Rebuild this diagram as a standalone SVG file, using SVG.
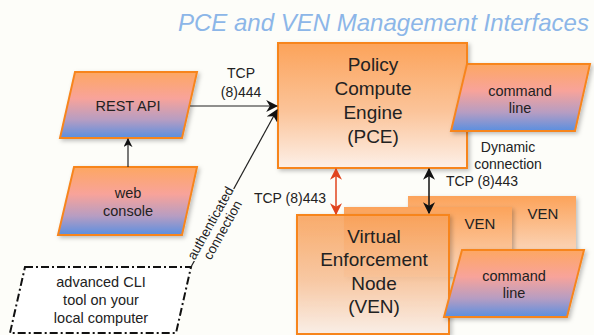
<svg xmlns="http://www.w3.org/2000/svg" width="594" height="335" viewBox="0 0 594 335">
<defs>
<style>
.t{font-family:"Liberation Sans",Arial,sans-serif;fill:#222;text-anchor:middle}
.box{stroke:#f7851f;stroke-width:2}
.ln{stroke:#222;stroke-width:1.2;fill:none}
</style>
<linearGradient id="gPce" x1="0" y1="0" x2="0" y2="1">
<stop offset="0" stop-color="#fca35a"/>
<stop offset="0.55" stop-color="#fbc49a"/>
<stop offset="1" stop-color="#fdf0e8"/>
</linearGradient>
<linearGradient id="gVen" x1="0" y1="0" x2="0" y2="1">
<stop offset="0" stop-color="#fca35a"/>
<stop offset="1" stop-color="#fbd9c0"/>
</linearGradient>
<linearGradient id="gPar" x1="0" y1="0" x2="0" y2="1">
<stop offset="0" stop-color="#fda762"/>
<stop offset="0.4" stop-color="#f8a39a"/>
<stop offset="0.72" stop-color="#b79dc2"/>
<stop offset="1" stop-color="#5a8fe0"/>
</linearGradient>
<filter id="sh" x="-10%" y="-10%" width="130%" height="130%">
<feDropShadow dx="2" dy="2" stdDeviation="2" flood-color="#000" flood-opacity="0.25"/>
</filter>
<marker id="ah" viewBox="0 0 10 10" refX="9" refY="5" markerWidth="9" markerHeight="9" markerUnits="userSpaceOnUse" orient="auto-start-reverse">
<path d="M0,0 L10,5 L0,10 L3,5 z" fill="#111"/>
</marker>
<marker id="ahb" viewBox="0 0 10 10" refX="9" refY="5" markerWidth="12" markerHeight="12" markerUnits="userSpaceOnUse" orient="auto-start-reverse">
<path d="M0,0 L10,5 L0,10 L3,5 z" fill="#111"/>
</marker>
<marker id="ahr" viewBox="0 0 10 10" refX="9" refY="5" markerWidth="12" markerHeight="12" markerUnits="userSpaceOnUse" orient="auto-start-reverse">
<path d="M0,0 L10,5 L0,10 L3,5 z" fill="#e0441e"/>
</marker>
</defs>
<rect width="594" height="335" fill="#fdfdf9"/>
<text x="178" y="31" style="font-family:'Liberation Sans',Arial,sans-serif;font-style:italic;font-size:24px;fill:#8cb6e8">PCE and VEN Management Interfaces</text>

<g id="pce">
<rect class="box" x="278" y="43" width="189" height="125" fill="url(#gPce)" filter="url(#sh)"/>
<text class="t" x="373" y="71" font-size="19">Policy</text>
<text class="t" x="373" y="95" font-size="19">Compute</text>
<text class="t" x="373" y="119" font-size="19">Engine</text>
<text class="t" x="373" y="143" font-size="19">(PCE)</text>
</g>

<g id="pce-cli">
<polygon class="box" points="467,64 590,64 575,131 451,131" fill="url(#gPar)" filter="url(#sh)"/>
<text class="t" x="520" y="96" font-size="14.5">command</text>
<text class="t" x="520" y="113" font-size="14.5">line</text>
</g>

<g id="rest-api">
<polygon class="box" points="75,72 197,72 182,138 60,138" fill="url(#gPar)" filter="url(#sh)"/>
<text class="t" x="128" y="111" font-size="14.5">REST API</text>
</g>

<g id="web-console">
<polygon class="box" points="74,167 197,167 182,235 58,235" fill="url(#gPar)" filter="url(#sh)"/>
<text class="t" x="128" y="198" font-size="14.5">web</text>
<text class="t" x="128" y="216" font-size="14.5">console</text>
</g>

<g id="cli-tool">
<polygon points="25,267 191,267 176,333 10,333" fill="#fff" stroke="#111" stroke-width="2" stroke-dasharray="8,3,2,3"/>
<text class="t" x="101" y="287" font-size="14.5">advanced CLI</text>
<text class="t" x="101" y="305" font-size="14.5">tool on your</text>
<text class="t" x="101" y="323" font-size="14.5">local computer</text>
</g>

<g id="ven3">
<rect x="408" y="196" width="168" height="60" fill="url(#gVen)" filter="url(#sh)"/>
<text class="t" x="543" y="219" font-size="15">VEN</text>
</g>
<g id="ven2">
<rect x="344" y="207" width="168" height="70" fill="url(#gVen)" filter="url(#sh)"/>
<text class="t" x="480" y="229" font-size="15">VEN</text>
</g>

<g id="ven">
<rect class="box" x="297" y="215" width="152" height="119" fill="url(#gPce)" fill-opacity="0.85" filter="url(#sh)"/>
<text class="t" x="374" y="243" font-size="19">Virtual</text>
<text class="t" x="374" y="266" font-size="19">Enforcement</text>
<text class="t" x="374" y="290" font-size="19">Node</text>
<text class="t" x="374" y="313" font-size="19">(VEN)</text>
</g>

<g id="ven-cli">
<polygon class="box" points="462,250 584,250 567,317 444,317" fill="url(#gPar)" filter="url(#sh)"/>
<text class="t" x="514" y="281" font-size="14.5">command</text>
<text class="t" x="514" y="298" font-size="14.5">line</text>
</g>

<g id="connectors">
<line class="ln" x1="190" y1="106" x2="277" y2="106" marker-end="url(#ahb)"/>
<line class="ln" x1="128" y1="167" x2="128" y2="139" marker-end="url(#ah)"/>
<line class="ln" x1="191" y1="267" x2="277" y2="110" marker-end="url(#ahb)"/>
<line x1="336" y1="169" x2="336" y2="214" stroke="#e0441e" stroke-width="1.5" marker-start="url(#ahr)" marker-end="url(#ahr)"/>
<line x1="429" y1="169" x2="429" y2="213" stroke="#111" stroke-width="1.5" marker-start="url(#ahb)" marker-end="url(#ahb)"/>
<text class="t" x="241" y="78" font-size="14">TCP</text>
<text class="t" x="241" y="97" font-size="14">(8)444</text>
<text class="t" x="290" y="203" font-size="14">TCP (8)443</text>
<text class="t" x="482" y="186" font-size="14">TCP (8)443</text>
<text class="t" x="508" y="152" font-size="14">Dynamic</text>
<text class="t" x="508" y="169" font-size="14">connection</text>
<g transform="translate(210,223) rotate(-61)">
<text class="t" x="0" y="5" font-size="13.5" style="paint-order:stroke;stroke:#fdfdf9;stroke-width:3">authenticated</text>
<text class="t" x="0" y="19" font-size="13.5" style="paint-order:stroke;stroke:#fdfdf9;stroke-width:3">connection</text>
</g>
</g>
</svg>
